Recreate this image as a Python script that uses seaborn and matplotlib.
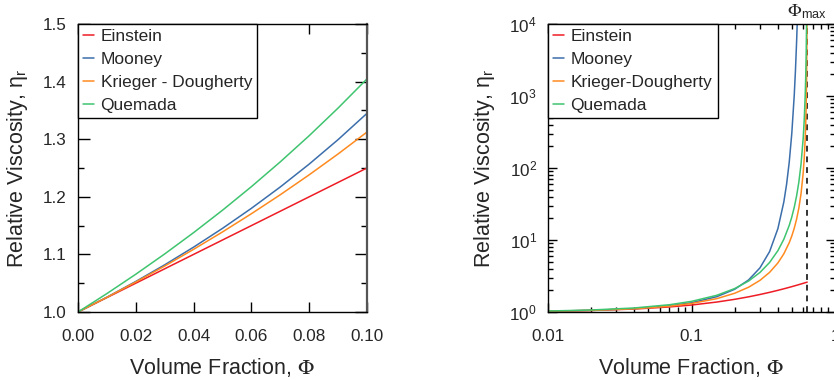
import numpy as np
import matplotlib
matplotlib.use("Agg")
import matplotlib.pyplot as plt
import matplotlib.ticker as mticker
import matplotlib.transforms as mtransforms
import seaborn as sns

# ---------------- data ----------------
labels_left = ["Einstein", "Mooney", "Krieger - Dougherty", "Quemada"]
labels_right = ["Einstein", "Mooney", "Krieger-Dougherty", "Quemada"]

phi_lin = [0.00, 0.01, 0.02, 0.03, 0.04, 0.05, 0.06, 0.07, 0.08, 0.09, 0.10]
einstein_lin = [1.000, 1.025, 1.050, 1.075, 1.100, 1.125, 1.150, 1.175, 1.200, 1.225, 1.250]
mooney_lin = [1.000, 1.0257, 1.0530, 1.0819, 1.1126, 1.1452, 1.1800, 1.2171, 1.2568, 1.2993, 1.3449]
kd_lin = [1.000, 1.0255, 1.0521, 1.0798, 1.1088, 1.1390, 1.1706, 1.2036, 1.2382, 1.2744, 1.3124]
quemada_lin = [1.000, 1.0320, 1.0656, 1.1008, 1.1378, 1.1767, 1.2176, 1.2607, 1.3061, 1.3541, 1.4047]

phi_einstein = [0.01, 0.02, 0.04, 0.07, 0.10, 0.15, 0.20, 0.25, 0.30, 0.35, 0.40, 0.45, 0.50, 0.55, 0.60, 0.64]
einstein_log = [1.025, 1.05, 1.10, 1.175, 1.25, 1.375, 1.50, 1.625, 1.75, 1.875, 2.00, 2.125, 2.25, 2.375, 2.50, 2.60]

phi_mooney = [0.01, 0.02, 0.04, 0.07, 0.10, 0.15, 0.20, 0.25, 0.30, 0.35, 0.40, 0.44, 0.46, 0.48,
              0.50, 0.52, 0.53, 0.54, 0.545, 0.55]
mooney_log = [1.0257, 1.0530, 1.1126, 1.2171, 1.3449, 1.6320, 2.0694, 2.7889, 4.1032, 6.8966, 14.392,
              33.784, 59.674, 121.51, 303.17, 1025.9, 2228.5, 5653.3, 9690.9, 17637]

phi_log = [0.01, 0.02, 0.04, 0.07, 0.10, 0.15, 0.20, 0.25, 0.30, 0.35, 0.40, 0.44, 0.48, 0.50, 0.52,
           0.54, 0.56, 0.58, 0.60, 0.61, 0.62, 0.625, 0.63, 0.634, 0.637, 0.639]
kd_log = [1.0255, 1.0521, 1.1088, 1.2036, 1.3124, 1.5331, 1.8212, 2.2089, 2.7512, 3.5486, 4.8034,
          6.4304, 9.1896, 11.378, 14.561, 19.493, 27.858, 44.141, 84.449, 133.81, 256.0, 405.64,
          776.05, 1757.3, 5327.2, 30895]
quemada_log = [1.0320, 1.0656, 1.1378, 1.2607, 1.4047, 1.7060, 2.1157, 2.6930, 3.5433, 4.8704,
               7.1111, 10.240, 16.000, 20.898, 28.444, 40.960, 64.000, 113.78, 256.00, 455.11,
               1024.0, 1820.4, 4096.0, 11378, 45511, 409600]

phi_max = 0.64

x_ticks_left = [0.00, 0.02, 0.04, 0.06, 0.08, 0.10]
x_ticklabels_left = ["0.00", "0.02", "0.04", "0.06", "0.08", "0.10"]
y_ticks_left = [1.0, 1.1, 1.2, 1.3, 1.4, 1.5]
y_ticklabels_left = ["1.0", "1.1", "1.2", "1.3", "1.4", "1.5"]
x_ticks_right = [0.01, 0.1, 1]
x_ticklabels_right = ["0.01", "0.1", "1"]
y_exponents_right = [0, 1, 2, 3, 4]

colors = ["#ee1c25", "#3b6eab", "#ff8a1f", "#3fc46f"]

# ---------------- style ----------------
sns.set_theme(style="ticks")
plt.rcParams["font.family"] = ["Liberation Sans", "DejaVu Sans"]
plt.rcParams["mathtext.fontset"] = "stix"
plt.rcParams["axes.edgecolor"] = "black"
plt.rcParams["axes.linewidth"] = 1.0

fig = plt.figure(figsize=(8.34, 3.8), dpi=100)
ax1 = fig.add_axes([78 / 834, 68 / 380, 289 / 834, 288 / 380])
ax2 = fig.add_axes([548 / 834, 68 / 380, 287 / 834, 288 / 380])

lw = 1.1
tick_fs = 12.3
label_fs = 15.5
legend_fs = 12.5

# ---------------- left panel ----------------
left_series = [einstein_lin, mooney_lin, kd_lin, quemada_lin]
for lab, ys, c in zip(labels_left, left_series, colors):
    sns.lineplot(x=phi_lin, y=ys, ax=ax1, color=c, lw=lw, label=lab)

ax1.set_xlim(0, 0.10)
ax1.set_ylim(1.0, 1.5)
ax1.set_xticks(x_ticks_left)
ax1.set_xticklabels(x_ticklabels_left)
ax1.set_yticks(y_ticks_left)
ax1.set_yticklabels(y_ticklabels_left)
ax1.yaxis.set_minor_locator(mticker.MultipleLocator(0.05))
ax1.tick_params(which="both", direction="in", top=True, right=True, color="black",
                labelsize=tick_fs, width=1.0)
ax1.tick_params(axis="x", which="major", length=7.5, pad=12.5)
ax1.tick_params(axis="y", which="major", length=8.5, pad=8.5)
ax1.tick_params(axis="y", which="minor", length=4.5)
ax1.set_xlabel(r"Volume Fraction, $\Phi$", fontsize=label_fs, labelpad=8.5)
ax1.set_ylabel(r"Relative Viscosity, $\mathregular{\eta_r}$", fontsize=label_fs, labelpad=9)

# ---------------- right panel ----------------
sns.lineplot(x=phi_einstein, y=einstein_log, ax=ax2, color=colors[0], lw=lw, label=labels_right[0])
sns.lineplot(x=phi_mooney, y=mooney_log, ax=ax2, color=colors[1], lw=lw, label=labels_right[1])
sns.lineplot(x=phi_log, y=kd_log, ax=ax2, color=colors[2], lw=lw, label=labels_right[2])
sns.lineplot(x=phi_log, y=quemada_log, ax=ax2, color=colors[3], lw=lw, label=labels_right[3])
ax2.axvline(phi_max, color="#333333", lw=1.4, ls=(0, (3, 2.5)), zorder=1)

ax2.set_xscale("log")
ax2.set_yscale("log")
ax2.set_xlim(0.01, 1)
ax2.set_ylim(1, 1e4)
ax2.xaxis.set_major_locator(mticker.FixedLocator(x_ticks_right))
ax2.xaxis.set_major_formatter(mticker.FixedFormatter(x_ticklabels_right))
ax2.xaxis.set_minor_locator(mticker.LogLocator(base=10, subs=np.arange(2, 10), numticks=20))
ax2.xaxis.set_minor_formatter(mticker.NullFormatter())
ax2.yaxis.set_major_locator(mticker.FixedLocator([10.0 ** e for e in y_exponents_right]))
ax2.yaxis.set_major_formatter(mticker.FuncFormatter(
    lambda v, p: r"$\mathregular{10^{%d}}$" % int(round(np.log10(v)))))
ax2.yaxis.set_minor_locator(mticker.LogLocator(base=10, subs=np.arange(2, 10), numticks=20))
ax2.yaxis.set_minor_formatter(mticker.NullFormatter())
ax2.tick_params(which="both", direction="in", top=True, right=True, color="black",
                labelsize=tick_fs, width=1.0)
ax2.tick_params(which="major", length=6.5)
ax2.tick_params(which="minor", length=3.5)
ax2.tick_params(axis="x", which="major", pad=12.5)
ax2.tick_params(axis="y", which="major", pad=8)
ax2.set_xlabel(r"Volume Fraction, $\Phi$", fontsize=label_fs, labelpad=8.5)
ax2.set_ylabel(r"Relative Viscosity, $\mathregular{\eta_r}$", fontsize=label_fs, labelpad=9)

trans = mtransforms.blended_transform_factory(ax2.transData, ax2.transAxes)
ax2.text(phi_max, 1.01, r"$\Phi_{\mathregular{max}}$", transform=trans, ha="center",
         va="bottom", fontsize=13)

# ---------------- legends ----------------
for ax in (ax1, ax2):
    leg = ax.legend(loc="upper left", borderaxespad=0, frameon=True, fancybox=False,
                    edgecolor="black", framealpha=1, fontsize=legend_fs,
                    handlelength=0.65, handletextpad=0.35, borderpad=0.3,
                    labelspacing=0.45)
    leg.get_frame().set_linewidth(1.0)
    for h in leg.get_lines():
        h.set_linewidth(1.1)
    for sp in ax.spines.values():
        sp.set_linewidth(1.0)
        sp.set_color("black")
ax1.spines["right"].set_linewidth(1.6)
ax1.spines["right"].set_color("#555555")

fig.savefig("out.png", dpi=100)
